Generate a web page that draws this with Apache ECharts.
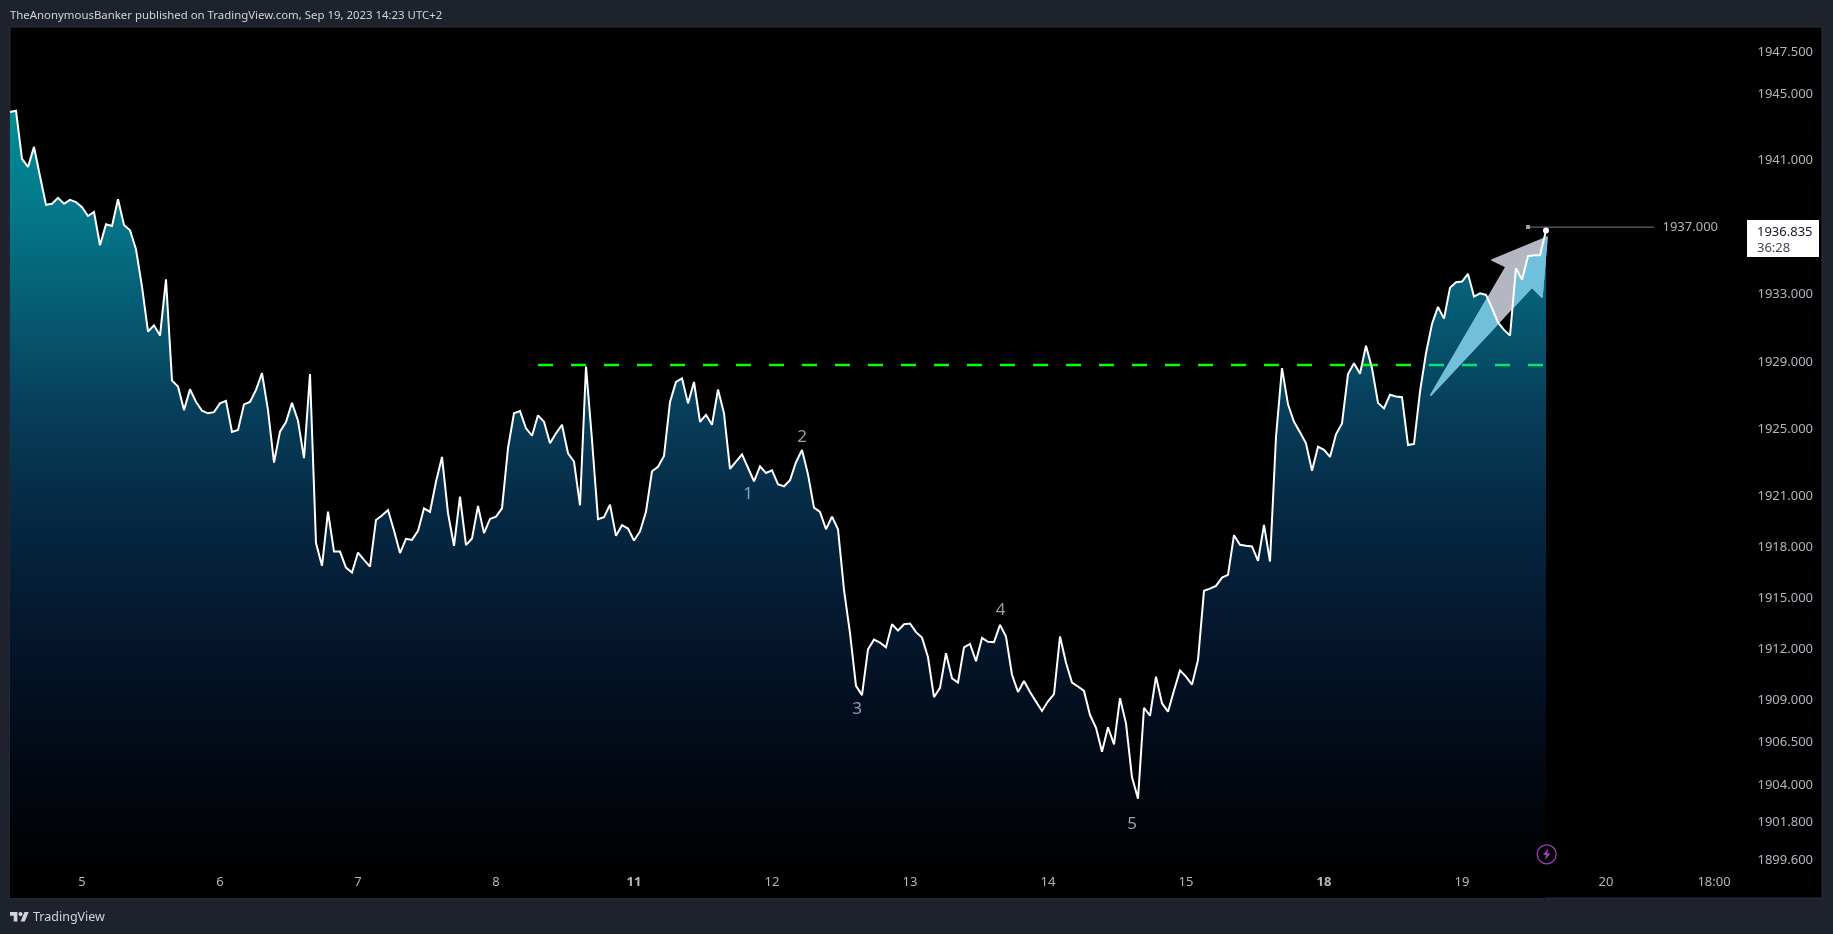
<!DOCTYPE html>
<html><head><meta charset="utf-8">
<style>html,body{margin:0;padding:0;background:#1e222d;overflow:hidden}#c{width:1833px;height:934px}</style>
<script src="https://cdn.jsdelivr.net/npm/echarts@6/dist/echarts.min.js"></script>
</head><body><div id="c"></div>
<script>
const prices = [
1943.92,1944.00,1941.12,1940.63,1941.83,1940.07,1938.37,1938.43,1938.78,1938.43,
1938.66,1938.53,1938.22,1937.70,1937.94,1935.95,1937.20,1937.10,1938.70,1937.16,
1936.85,1935.71,1933.48,1930.81,1931.18,1930.57,1933.92,1927.89,1927.54,1926.14,
1927.38,1926.63,1926.10,1925.95,1926.02,1926.54,1926.69,1924.84,1924.96,1926.48,
1926.63,1927.34,1928.34,1926.14,1923.03,1924.86,1925.43,1926.57,1925.51,1923.29,
1928.28,1918.26,1916.92,1920.12,1917.76,1917.76,1916.81,1916.52,1917.70,1917.27,
1916.87,1919.63,1919.89,1920.22,1919.00,1917.67,1918.51,1918.45,1918.98,1920.32,
1920.11,1921.89,1923.36,1920.03,1918.10,1921.01,1918.14,1918.53,1920.46,1918.85,
1919.69,1919.83,1920.32,1923.88,1925.95,1926.08,1925.06,1924.62,1925.83,1925.45,
1924.17,1924.76,1925.27,1923.58,1923.09,1920.50,1928.73,1924.37,1919.67,1919.79,
1920.54,1918.69,1919.32,1919.12,1918.41,1918.95,1920.12,1922.51,1922.78,1923.42,
1926.63,1927.81,1928.03,1926.54,1927.81,1925.45,1925.86,1925.27,1927.36,1925.95,
1922.66,1923.09,1923.52,1922.72,1921.92,1922.80,1922.41,1922.57,1921.74,1921.62,
1921.98,1923.05,1923.78,1922.33,1920.36,1920.11,1919.08,1919.83,1919.08,1915.50,
1912.94,1909.84,1909.29,1911.99,1912.56,1912.38,1912.11,1913.47,1913.09,1913.47,
1913.51,1913.00,1912.68,1911.52,1909.17,1909.72,1911.76,1910.28,1910.03,1912.11,
1912.31,1911.29,1912.66,1912.43,1912.41,1913.43,1912.74,1910.49,1909.48,1910.12,
1909.48,1908.91,1908.36,1908.93,1909.35,1912.74,1911.20,1910.03,1909.80,1909.54,
1908.12,1907.37,1905.96,1907.40,1906.40,1909.11,1907.63,1904.46,1903.21,1908.55,
1908.08,1910.38,1908.81,1908.32,1909.56,1910.75,1910.38,1909.91,1911.36,1915.44,
1915.57,1915.73,1916.22,1916.38,1918.73,1918.16,1918.10,1918.06,1917.21,1919.34,
1917.17,1924.56,1928.63,1926.48,1925.45,1924.82,1924.17,1922.54,1923.97,1923.78,
1923.36,1924.70,1925.35,1928.28,1928.93,1928.30,1929.97,1928.63,1926.57,1926.24,
1927.05,1926.95,1926.91,1924.07,1924.13,1927.24,1929.52,1931.26,1932.28,1931.58,
1933.42,1933.75,1933.79,1934.24,1932.89,1933.09,1932.99,1932.21,1931.35,1930.91,
1930.57,1934.59,1933.89,1935.30,1935.36,1935.36,1936.835];
const dayIdx = [12,35,58,81,104,127,150,173,196,219,242,266,284];
const dayLabels = ['5','6','7','8','11','12','13','14','15','18','19','20','18:00'];
const boldDays = ['11','18'];
const priceTicks = [1947.5,1945,1941,1933,1929,1925,1921,1918,1915,1912,1909,1906.5,1904,1901.8,1899.6];
const waveIdx = [123,132,141.17,165.1,187];
const waveVals = [1921.17,1924.55,1908.47,1914.31,1901.73];
const waveLabels = ['1','2','3','4','5'];
const waveColors = ['#7ea6c6','#9a9dab','#8f9db8','#9a9dab','#9a9eae'];
const levelVal = 1928.82;
const levelIdx = [88,256];
const targetVal = 1937.04;
const targetIdx = [253,274];
const arrowIdx = [236.83,249.33,247,256.17,255.33,253.67];
const arrowVals = [1927.04,1934.66,1935.07,1936.44,1932.87,1933.46];
const yMin = 1897.39, yMax = 1949.02;

const FONT = '"Noto Sans", sans-serif';
const points = prices.map((v,i)=>[i,v]);
const lastI = prices.length-1;

const chart = echarts.init(document.getElementById('c'),null,{renderer:'canvas',width:1833,height:934});
chart.setOption({
  animation:false,
  backgroundColor:'#1e222d',
  grid:{left:10,top:27,width:1812,height:871,show:true,backgroundColor:'#000',borderColor:'#2a2e39',borderWidth:1,containLabel:false},
  xAxis:{type:'value',min:0,max:302,position:'bottom',z:10,
    axisLine:{show:false},axisTick:{show:false},splitLine:{show:false},
    axisLabel:{inside:true,margin:9,customValues:dayIdx,hideOverlap:false,showMinLabel:true,showMaxLabel:true,
      color:'#b2b5be',fontFamily:FONT,fontSize:13,
      formatter:v=>{const s=dayLabels[dayIdx.indexOf(v)];return boldDays.includes(s)?'{b|'+s+'}':s;},
      rich:{b:{fontWeight:'bold',color:'#b2b5be',fontFamily:FONT,fontSize:13}}}},
  yAxis:{type:'log',logBase:10,min:yMin,max:yMax,position:'right',z:10,
    axisLine:{show:false},axisTick:{show:false},splitLine:{show:false},minorTick:{show:false},minorSplitLine:{show:false},
    axisLabel:{inside:true,margin:9,customValues:priceTicks,color:'#b2b5be',fontFamily:FONT,fontSize:13,
      formatter:v=>(+v).toFixed(3)}},
  series:[
    {type:'line',z:1,data:points,symbol:'none',lineStyle:{width:0},
     areaStyle:{origin:'start',opacity:1,color:{type:'linear',x:0,y:0,x2:0,y2:1,colorStops:[
       {offset:0,color:'#008c96'},{offset:.12,color:'#04798a'},{offset:.25,color:'#065c74'},
       {offset:.37,color:'#07405c'},{offset:.5,color:'#062a45'},{offset:.62,color:'#051b33'},
       {offset:.75,color:'#030f20'},{offset:.88,color:'#01050d'},{offset:.97,color:'#000000'},{offset:1,color:'#000000'}]}}},
    {type:'custom',z:2,coordinateSystem:'cartesian2d',data:[[0,1900]],silent:true,clip:false,
     renderItem:(params,api)=>{
       const pts=arrowIdx.map((x,i)=>api.coord([x,arrowVals[i]]));
       const clipPts=points.map(p=>api.coord(p));
       clipPts.push(api.coord([lastI+.3,prices[lastI]]),api.coord([lastI+.3,yMin]),api.coord([0,yMin]));
       return {type:'group',children:[
         {type:'polygon',shape:{points:pts},style:{fill:'#b4b6c2',stroke:'#b4b6c2',lineWidth:1.5,lineJoin:'round'}},
         {type:'polygon',shape:{points:pts},style:{fill:'#70c0dc',stroke:'#70c0dc',lineWidth:1.5,lineJoin:'round'},
          clipPath:{type:'polygon',shape:{points:clipPts}}}
       ]};
     }},
    {type:'line',z:3,data:levelIdx.map(i=>[i,levelVal]),symbol:'none',
     lineStyle:{width:2.6,type:[15,18],color:{type:'linear',x:0,y:0,x2:1,y2:0,colorStops:[
       {offset:0,color:'#00ff00'},{offset:.87,color:'#00ff00'},{offset:.875,color:'#00e66e'},{offset:1,color:'#00e66e'}]}}},
    {type:'line',z:4,data:points,symbol:'none',lineStyle:{width:2,color:'#ffffff',join:'miter',miterLimit:2}},
    {type:'line',z:5,data:[
        {value:[targetIdx[0],targetVal],symbol:'rect',symbolSize:4,itemStyle:{color:'#9ea1ad'}},
        {value:[targetIdx[1],targetVal],symbol:'none'}],
     showSymbol:true,lineStyle:{width:1.2,color:'#60636e'}},
    {type:'scatter',z:5,data:[{value:[targetIdx[1],targetVal],
        label:{show:true,position:'right',distance:8,formatter:'1937.000',color:'#b2b5be',fontFamily:FONT,fontSize:13,opacity:1}}],
     symbolSize:1,itemStyle:{color:'transparent',opacity:1}},
    {type:'scatter',z:6,data:[[lastI,prices[lastI]]],symbol:'circle',symbolSize:6,itemStyle:{color:'#fff',opacity:1}},
    {type:'scatter',z:6,data:waveIdx.map((x,i)=>({value:[x,waveVals[i]],
        label:{show:true,position:'inside',formatter:waveLabels[i],color:waveColors[i],fontFamily:FONT,fontSize:17,opacity:1}})),
     symbolSize:1,itemStyle:{color:'transparent',opacity:1}}
  ],
  graphic:[
    {type:'text',left:10,top:10,style:{text:'TheAnonymousBanker published on TradingView.com, Sep 19, 2023 14:23 UTC+2',fill:'#d1d4dc',font:'11.4px '+FONT}},
    {type:'rect',shape:{x:1747,y:220,width:72,height:37},style:{fill:'#ffffff'},z:10},
    {type:'text',left:1757,top:226,z:11,style:{text:'1936.835',fill:'#131722',font:'13px '+FONT}},
    {type:'text',left:1757,top:242,z:11,style:{text:'36:28',fill:'#434651',font:'13px '+FONT}},
    {type:'circle',shape:{cx:1546.7,cy:854.3,r:9.5},style:{fill:'none',stroke:'#a03fb5',lineWidth:1.3},z:10},
    {type:'polygon',shape:{points:[[1548,848.5],[1543,855],[1546,855],[1545,860],[1550.5,853.5],[1547.5,853.5]]},style:{fill:'#a03fb5'},z:10},
    {type:'polygon',shape:{points:[[17.4,921.5],[13.7,921.5],[13.7,915.7],[10,915.7],[10,912],[17.4,912]]},style:{fill:'#d1d4dc'}},
    {type:'polygon',shape:{points:[[24.8,921.5],[20.6,921.5],[24.5,912],[28.7,912]]},style:{fill:'#d1d4dc'}},
    {type:'circle',shape:{cx:20.56,cy:914.1,r:2.1},style:{fill:'#d1d4dc'}},
    {type:'text',left:33,top:910.5,style:{text:'TradingView',fill:'#d1d4dc',font:'12.5px '+FONT}}
  ]
});
</script></body></html>
